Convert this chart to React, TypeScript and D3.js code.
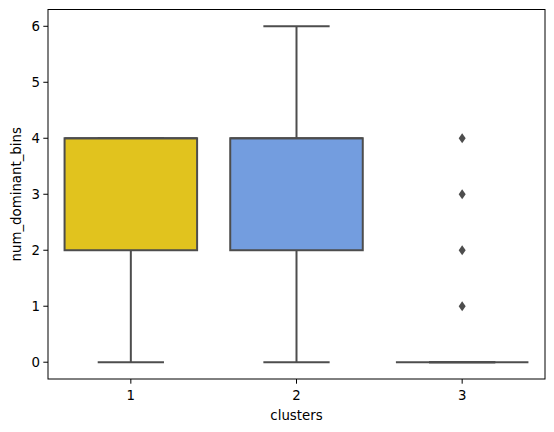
import React from "react";
import * as d3 from "d3";

const categories = ["1", "2", "3"];
const q1s = [2, 2, 0];
const medians = [4, 4, 0];
const q3s = [4, 4, 0];
const whiskLo = [0, 0, 0];
const whiskHi = [4, 6, 0];
const outliers: number[][] = [[], [], [1, 2, 3, 4]];
const colors = ["#e1c31e", "#739ddf", "#d8d8d8"];
const yTicks = [0, 1, 2, 3, 4, 5, 6];

const W = 554, H = 432;
const left = 48, right = 545, top = 9.5, bottom = 379;
const font = "DejaVu Sans, sans-serif";
const lineC = "#4d4d4d";

export default function App() {
  const x = d3.scaleLinear().domain([-0.5, 2.5]).range([left, right]);
  const y = d3.scaleLinear().domain([-0.3, 6.3]).range([bottom, top]);
  const bw = (x(0.4) - x(-0.4));
  return (
    <svg width={W} height={H} style={{ position: "absolute", left: 0, top: 0, background: "#fff" }}>
      {categories.map((c, i) => {
        const cx = x(i);
        return (
          <g key={c}>
            <line x1={cx} x2={cx} y1={y(q3s[i])} y2={y(whiskHi[i])} stroke={lineC} strokeWidth={2} />
            <line x1={cx} x2={cx} y1={y(q1s[i])} y2={y(whiskLo[i])} stroke={lineC} strokeWidth={2} />
            <line x1={cx - bw / 4} x2={cx + bw / 4} y1={y(whiskHi[i])} y2={y(whiskHi[i])} stroke={lineC} strokeWidth={2} />
            <line x1={cx - bw / 4} x2={cx + bw / 4} y1={y(whiskLo[i])} y2={y(whiskLo[i])} stroke={lineC} strokeWidth={2} />
            <rect x={cx - bw / 2} y={y(q3s[i])} width={bw} height={Math.max(0, y(q1s[i]) - y(q3s[i]))} fill={colors[i]} stroke={lineC} strokeWidth={2} />
            <line x1={cx - bw / 2} x2={cx + bw / 2} y1={y(medians[i])} y2={y(medians[i])} stroke={lineC} strokeWidth={2} />
            {outliers[i].map((v, j) => (
              <path key={j} d={`M${cx},${y(v) - 5} L${cx + 3.5},${y(v)} L${cx},${y(v) + 5} L${cx - 3.5},${y(v)} Z`} fill={lineC} />
            ))}
          </g>
        );
      })}
      <rect x={left} y={top} width={right - left} height={bottom - top} fill="none" stroke="#000" strokeWidth={1} />
      {yTicks.map(t => (
        <g key={t}>
          <line x1={left - 4.7} x2={left} y1={y(t)} y2={y(t)} stroke="#000" strokeWidth={1} />
          <text x={left - 8} y={y(t)} dy="0.35em" textAnchor="end" fontFamily={font} fontSize={13.33} fill="#000">{t}</text>
        </g>
      ))}
      {categories.map((c, i) => (
        <g key={c}>
          <line x1={x(i)} x2={x(i)} y1={bottom} y2={bottom + 4.7} stroke="#000" strokeWidth={1} />
          <text x={x(i)} y={bottom + 20.5} textAnchor="middle" fontFamily={font} fontSize={13.33} fill="#000">{c}</text>
        </g>
      ))}
      <text x={(left + right) / 2} y={bottom + 40.5} textAnchor="middle" fontFamily={font} fontSize={13.33} fill="#000">clusters</text>
      <text transform={`translate(21,${(top + bottom) / 2}) rotate(-90)`} textAnchor="middle" fontFamily={font} fontSize={13.33} fill="#000">num_dominant_bins</text>
    </svg>
  );
}
